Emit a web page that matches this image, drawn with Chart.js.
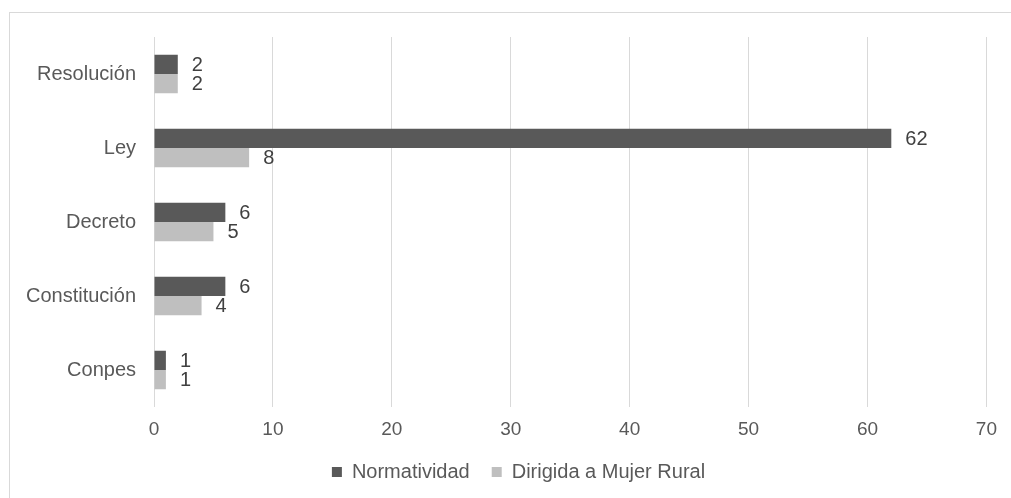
<!DOCTYPE html>
<html>
<head>
<meta charset="utf-8">
<script src="https://cdn.jsdelivr.net/npm/chart.js@4"></script>
<style>
    html, body { margin: 0; padding: 0; background: #fff; overflow: hidden; }
    #frame { position: absolute; left: 9px; top: 12px; width: 1100px; height: 600px; border: 1px solid #d9d9d9; }
    #wrap { position: absolute; left: 0; top: 0; width: 1011px; height: 498px; }
</style>
</head>
<body>
<div id="frame"></div>
<div id="wrap"><canvas id="barChart"></canvas></div>
<script>
(function () {
    "use strict";

    var categories = ["Resolución", "Ley", "Decreto", "Constitución", "Conpes"];
    var normatividad = [2, 62, 6, 6, 1];
    var mujerRural = [2, 8, 5, 4, 1];
    var xTicks = [0, 10, 20, 30, 40, 50, 60, 70];

    var textColor = "#595959";
    var fontFamily = "'Liberation Sans', Arial, sans-serif";

    // value labels at the end of each bar
    var barLabels = {
        id: "barLabels",
        afterDatasetsDraw: function (chart) {
            var ctx = chart.ctx;
            ctx.save();
            ctx.font = "20px " + fontFamily;
            ctx.fillStyle = "#404040";
            ctx.textAlign = "left";
            ctx.textBaseline = "middle";
            chart.data.datasets.forEach(function (ds, i) {
                chart.getDatasetMeta(i).data.forEach(function (bar, j) {
                    ctx.fillText(ds.data[j], bar.x + 14, bar.y + 1);
                });
            });
            ctx.restore();
        }
    };

    // legend sits a bit right of the canvas centre
    var legendShift = {
        id: "legendShift",
        afterLayout: function (chart) {
            var lg = chart.legend;
            lg.left += 24;
            lg.right += 24;
        }
    };

    var ctx = document.getElementById("barChart");
    var myChart = new Chart(ctx, {
        type: 'bar',
        data: {
            labels: categories,
            datasets: [{
                label: "Normatividad",
                data: normatividad,
                backgroundColor: "#595959"
            }, {
                label: "Dirigida a Mujer Rural",
                data: mujerRural,
                backgroundColor: "#bfbfbf"
            }]
        },
        options: {
            indexAxis: 'y',
            responsive: true,
            maintainAspectRatio: false,
            animation: false,
            categoryPercentage: 0.52,
            barPercentage: 1,
            layout: {
                padding: { left: 0, right: 22, top: 37, bottom: 6 }
            },
            scales: {
                x: {
                    min: xTicks[0],
                    max: xTicks[xTicks.length - 1],
                    afterBuildTicks: function (scale) {
                        scale.ticks = xTicks.map(function (v) { return { value: v }; });
                    },
                    afterFit: function (scale) { scale.height = 33; },
                    border: { display: false },
                    grid: { color: "#d9d9d9", drawTicks: false },
                    ticks: {
                        padding: 14,
                        color: textColor,
                        font: { family: fontFamily, size: 19, lineHeight: 0.9 }
                    }
                },
                y: {
                    afterFit: function (scale) { scale.width = 154; },
                    border: { display: false },
                    grid: { display: false, drawTicks: false },
                    ticks: {
                        padding: 18,
                        color: textColor,
                        font: { family: fontFamily, size: 20 }
                    }
                }
            },
            plugins: {
                legend: {
                    position: 'bottom',
                    labels: {
                        boxWidth: 10,
                        boxHeight: 10,
                        padding: 22,
                        color: textColor,
                        font: { family: fontFamily, size: 20 }
                    }
                },
                tooltip: { enabled: false }
            }
        },
        plugins: [barLabels, legendShift]
    });

})();
</script>
</body>
</html>
